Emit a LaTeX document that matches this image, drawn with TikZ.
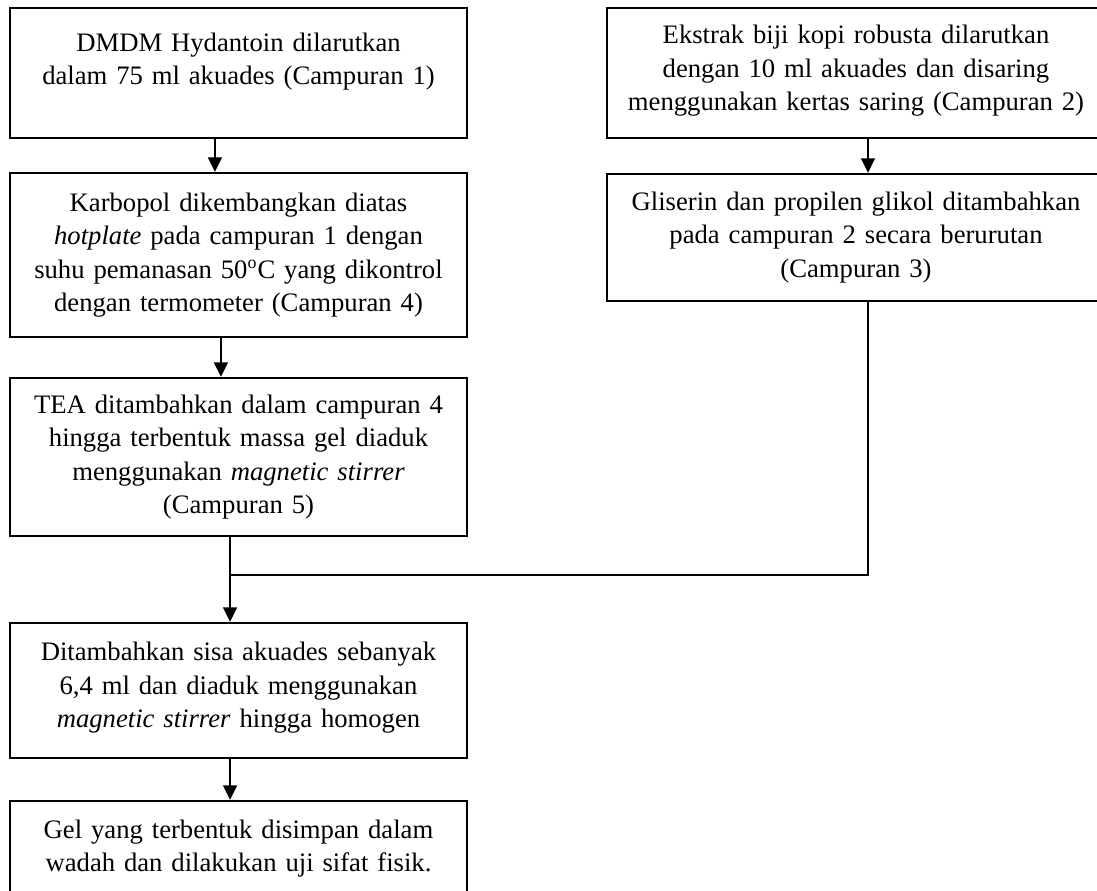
\documentclass[tikz,border=0pt]{standalone}
\usepackage{fontspec}
\setmainfont{Liberation Serif}
\usetikzlibrary{arrows.meta}

\begin{document}
\begin{tikzpicture}[x=0.45pt, y=-0.45pt,
    kotak/.style={draw, line width=1.1pt, inner sep=0pt, align=center,
      font=\fontsize{12}{15}\selectfont},
    kiri/.style={kotak, text width=205.6pt},
    kanan/.style={kotak, text width=224.1pt},
    panah/.style={line width=0.6pt, -{Triangle[width=6.3pt, length=6.5pt]}}]
    \useasboundingbox (0,0) rectangle (1097,890);

    % Campuran 1
    \node[kiri, minimum height=58.5pt] (dmdm) at (238.5,73)
      {DMDM Hydantoin dilarutkan\\ dalam 75 ml akuades (Campuran 1)\rule[-13pt]{0pt}{13pt}};

    % Campuran 4
    \node[kiri, minimum height=73.8pt] (karbopol) at (238.5,255)
      {Karbopol dikembangkan diatas\\ \textit{hotplate} pada campuran 1 dengan\\
       suhu pemanasan 50\textsuperscript{o}C yang dikontrol\\ dengan termometer (Campuran 4)};

    % Campuran 5
    \node[kiri, minimum height=71.1pt] (tea) at (238.5,457)
      {TEA ditambahkan dalam campuran 4\\ hingga terbentuk massa gel diaduk\\
       menggunakan \textit{magnetic stirrer}\\ (Campuran 5)};

    % sisa akuades
    \node[kiri, minimum height=60.75pt] (akuades) at (238.5,690.5)
      {Ditambahkan sisa akuades sebanyak\\ 6,4 ml dan diaduk menggunakan\\
       \textit{magnetic stirrer} hingga homogen\rule[-5pt]{0pt}{5pt}};

    % gel jadi
    \node[kiri, minimum height=63pt] (gel) at (238.5,871)
      {Gel yang terbentuk disimpan dalam\\ wadah dan dilakukan uji sifat fisik.\rule[-23pt]{0pt}{23pt}};

    % Campuran 2
    \node[kanan, minimum height=58.5pt] (ekstrak) at (856,73)
      {Ekstrak biji kopi robusta dilarutkan\\ dengan 10 ml akuades dan disaring\\
       menggunakan kertas saring (Campuran 2)\rule[-4.5pt]{0pt}{4.5pt}};

    % Campuran 3
    \node[kanan, minimum height=57.15pt] (gliserin) at (856,237.5)
      {Gliserin dan propilen glikol ditambahkan\\ pada campuran 2 secara berurutan\\
       (Campuran 3)};

    % panah kiri
    \draw[panah] ([xshift=-10.6pt]dmdm.south) -- ([xshift=-10.6pt]karbopol.north);
    \draw[panah] ([xshift=-7.9pt]karbopol.south) -- ([xshift=-7.9pt]tea.north);
    \draw[panah] ([xshift=-3.8pt]tea.south) -- ([xshift=-3.8pt]akuades.north);
    \draw[panah] ([xshift=-3.8pt]akuades.south) -- ([xshift=-3.8pt]gel.north);

    % panah kanan
    \draw[panah] ([xshift=5.4pt]ekstrak.south) -- ([xshift=5.4pt]gliserin.north);

    % Campuran 3 masuk ke Campuran 5
    \coordinate (gabung) at (230,575);
    \draw[line width=0.6pt] ([xshift=5.4pt]gliserin.south) |- (gabung);
\end{tikzpicture}
\end{document}
